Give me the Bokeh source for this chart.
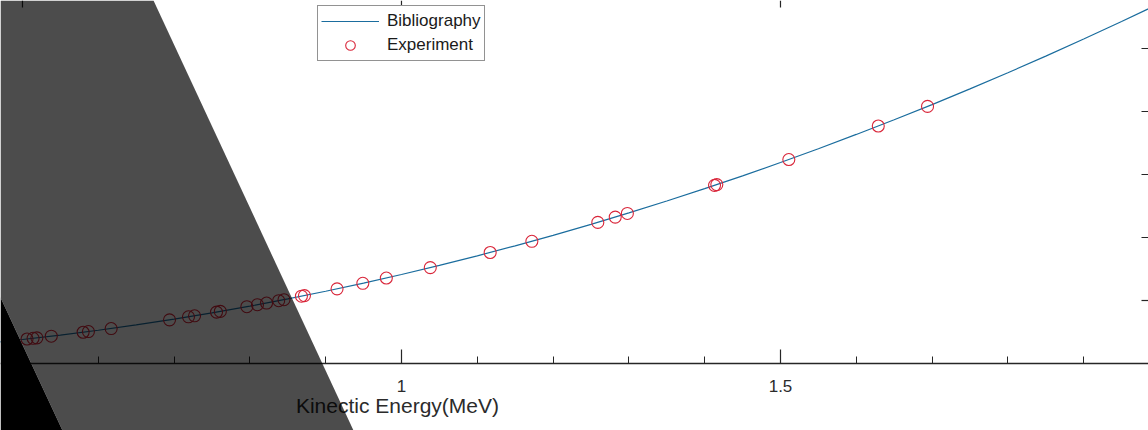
from bokeh.plotting import figure
from bokeh.models import (ColumnDataSource, FixedTicker, NumeralTickFormatter,
                          Legend, LegendItem, Label, PolyAnnotation)
from bokeh.embed import file_html
from bokeh.resources import INLINE

# Reference curve (bibliography values) versus kinetic energy in MeV
energy_curve = [0.45, 0.50, 0.55, 0.60, 0.65, 0.70, 0.75, 0.80, 0.85, 0.90,
                0.95, 1.00, 1.05, 1.10, 1.15, 1.20, 1.25, 1.30, 1.35, 1.40,
                1.45, 1.50, 1.55, 1.60, 1.65, 1.70, 1.75, 1.80, 1.85, 1.90,
                1.95, 2.00]
value_curve = [0.319, 0.381, 0.451, 0.528, 0.612, 0.704, 0.804, 0.910, 1.025, 1.147,
               1.276, 1.413, 1.557, 1.709, 1.868, 2.034, 2.208, 2.390, 2.579, 2.775,
               2.979, 3.190, 3.409, 3.636, 3.869, 4.110, 4.359, 4.615, 4.879, 5.150,
               5.428, 5.714]

# Measured points
energy_exp = [0.506, 0.514, 0.519, 0.538, 0.580, 0.587, 0.617, 0.694, 0.719, 0.727,
              0.756, 0.761, 0.796, 0.810, 0.822, 0.838, 0.845, 0.868, 0.872, 0.915,
              0.949, 0.980, 1.038, 1.117, 1.172, 1.259, 1.282, 1.298, 1.413, 1.416,
              1.511, 1.629, 1.694]
value_exp = [0.389, 0.400, 0.407, 0.433, 0.496, 0.507, 0.555, 0.693, 0.741, 0.757,
             0.816, 0.827, 0.902, 0.933, 0.960, 0.997, 1.013, 1.068, 1.078, 1.185,
             1.273, 1.357, 1.522, 1.762, 1.940, 2.240, 2.324, 2.382, 2.828, 2.840,
             3.238, 3.770, 4.081]

x_major_ticks = [0.5, 1.0, 1.5, 2.0]
x_minor_ticks = [round(0.1 * i, 1) for i in range(1, 21)]
y_ticks = [1, 2, 3, 4, 5]

x_label = "Kinectic Energy(MeV)"
series_names = ["Bibliography", "Experiment"]

# visible window of the axes box; room below zero holds the axis labels
X_START, X_END = 0.471, 1.9855
Y_START, Y_END = -1.0635, 5.762
PX_X = 758.0   # pixels per MeV
PX_Y = 63.0    # pixels per y unit

AXIS_COLOR = "#262626"
LINE_COLOR = "#1b6d9e"
MARKER_COLOR = "#d9263a"
FONT = "Liberation Sans"

p = figure(width=1148, height=430, x_range=(X_START, X_END), y_range=(Y_START, Y_END),
           y_axis_location=None, toolbar_location=None, output_backend="svg",
           min_border_left=0, min_border_right=0, min_border_top=0, min_border_bottom=0)
p.outline_line_color = None
p.background_fill_color = "white"
p.border_fill_color = "white"
p.xgrid.visible = False
p.ygrid.visible = False

curve_src = ColumnDataSource(dict(x=energy_curve, y=value_curve))
exp_src = ColumnDataSource(dict(x=energy_exp, y=value_exp))

line_r = p.line("x", "y", source=curve_src, line_color=LINE_COLOR, line_width=1.2)
pts_r = p.scatter("x", "y", source=exp_src, marker="circle", size=12,
                  line_color=MARKER_COLOR, line_width=1.1, fill_color=None)

# bottom axis pinned at y = 0 with inward ticks
ax = p.xaxis[0]
ax.fixed_location = 0
ax.ticker = FixedTicker(ticks=x_major_ticks, minor_ticks=x_minor_ticks)
ax.formatter = NumeralTickFormatter(format="0.[0]")
ax.axis_line_color = AXIS_COLOR
ax.axis_line_width = 1.4
ax.major_tick_in = 14
ax.major_tick_out = 0
ax.minor_tick_in = 7
ax.minor_tick_out = 0
ax.major_tick_line_color = AXIS_COLOR
ax.minor_tick_line_color = AXIS_COLOR
ax.major_tick_line_width = 1.2
ax.minor_tick_line_width = 1.0
ax.major_label_text_font = FONT
ax.major_label_text_font_size = "17px"
ax.major_label_text_color = "#2b2b2b"
ax.major_label_standoff = 16

# mirrored ticks on the top and right edges of the box
tick_dx = 7 / PX_X
tick_dy = 7 / PX_Y
top_ticks = [t for t in x_major_ticks if X_START <= t <= X_END]
p.segment(x0=top_ticks, x1=top_ticks, y0=[Y_END] * len(top_ticks),
          y1=[Y_END - tick_dy] * len(top_ticks), line_color=AXIS_COLOR, line_width=1.2)
p.segment(x0=[X_END - tick_dx] * len(y_ticks), x1=[X_END] * len(y_ticks),
          y0=y_ticks, y1=y_ticks, line_color=AXIS_COLOR, line_width=1.2)

# axis title, centred under the full axis span
p.add_layout(Label(x=1.0, y=-0.667, x_offset=-4, text=x_label, text_align="center",
                   text_baseline="middle", text_font=FONT, text_font_size="21px",
                   text_color="#2b2b2b"))

legend = Legend(items=[LegendItem(label=series_names[0], renderers=[line_r]),
                       LegendItem(label=series_names[1], renderers=[pts_r])],
                location=(317, 369), orientation="vertical",
                glyph_width=58, glyph_height=24, label_height=24, label_standoff=8,
                spacing=0, padding=3, margin=0,
                label_text_font=FONT, label_text_font_size="17px",
                label_text_color="#1a1a1a",
                border_line_color=AXIS_COLOR, border_line_width=1,
                background_fill_color="white", background_fill_alpha=1.0)
p.add_layout(legend)

# dark shading across the left part of the canvas
p.add_layout(PolyAnnotation(xs=[0, 153, 353, 62, 0], ys=[0, 0, 430, 430, 297],
                            xs_units="canvas", ys_units="canvas",
                            fill_color="black", fill_alpha=0.70, line_color=None,
                            level="overlay"))
p.add_layout(PolyAnnotation(xs=[0, 62, 0], ys=[297, 430, 430],
                            xs_units="canvas", ys_units="canvas",
                            fill_color="black", fill_alpha=1.0, line_color=None,
                            level="overlay"))

open("out.html", "w").write(file_html(p, INLINE))
